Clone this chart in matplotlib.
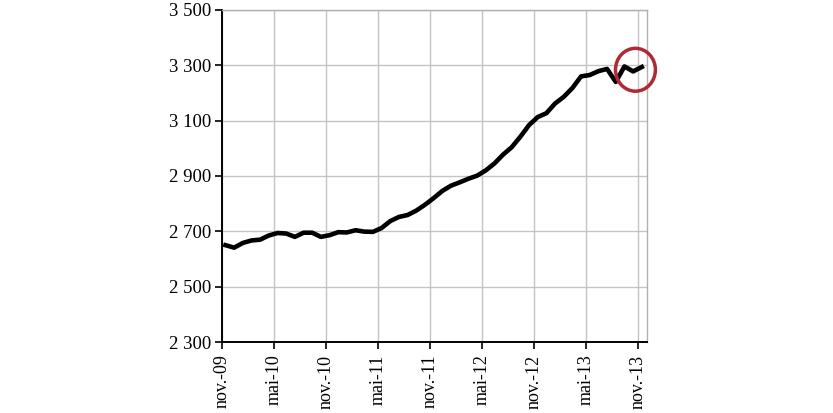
import matplotlib
matplotlib.use("Agg")
import matplotlib.pyplot as plt
from matplotlib.patches import Ellipse
import numpy as np

# Monthly values, nov-09 .. nov-13
values = [2650, 2641, 2658, 2667, 2670, 2685, 2694, 2692, 2680, 2695,
          2695, 2680, 2686, 2697, 2696, 2704, 2699, 2698, 2712, 2737,
          2752, 2759, 2775, 2796, 2820, 2846, 2865, 2877, 2890, 2901,
          2920, 2945, 2977, 3004, 3042, 3084, 3113, 3127, 3162, 3186,
          3218, 3260, 3265, 3279, 3287, 3240, 3296, 3278, 3294]
tick_labels = ["nov.-09", "mai-10", "nov.-10", "mai-11", "nov.-11",
               "mai-12", "nov.-12", "mai-13", "nov.-13"]
tick_months = [0, 6, 12, 18, 24, 30, 36, 42, 48]
y_ticks = [2300, 2500, 2700, 2900, 3100, 3300, 3500]

plt.rcParams['font.family'] = ['Liberation Serif', 'DejaVu Serif']

fig = plt.figure(figsize=(8.33, 4.13), dpi=100)
ax = fig.add_axes([0.2665, 0.1719, 0.7767 - 0.2665, 0.9758 - 0.1719])

x = np.arange(len(values)) + 0.4
ax.plot(x, values, color='black', lw=3.3, solid_joinstyle='round', zorder=3)

ax.set_xlim(0, 49)
ax.set_ylim(2300, 3500)
ax.set_yticks(y_ticks)
ax.set_yticklabels([f"{v // 1000} {v % 1000:03d}" for v in y_ticks], fontsize=13.5)
ax.set_xticks(tick_months)
ax.set_xticklabels(tick_labels, rotation=90, fontsize=13, va='top')

ax.grid(True, color='#c4c4c4', lw=1.0, zorder=0)
ax.set_axisbelow(True)
ax.tick_params(direction='out', length=5, width=1.2, color='black')
ax.tick_params(axis='x', pad=4)
ax.tick_params(axis='y', pad=3)
for s in ['left', 'bottom']:
    ax.spines[s].set_color('black')
    ax.spines[s].set_linewidth(1.4)
for s in ['top', 'right']:
    ax.spines[s].set_color('#b0b0b0')
    ax.spines[s].set_linewidth(1.0)

# Red highlight circle around the last months
circ = Ellipse((47.67, 3284), width=4.6, height=155, fill=False,
               edgecolor='#b02a35', lw=2.5, clip_on=False, zorder=4)
ax.add_patch(circ)

fig.savefig("out.png", dpi=100)
